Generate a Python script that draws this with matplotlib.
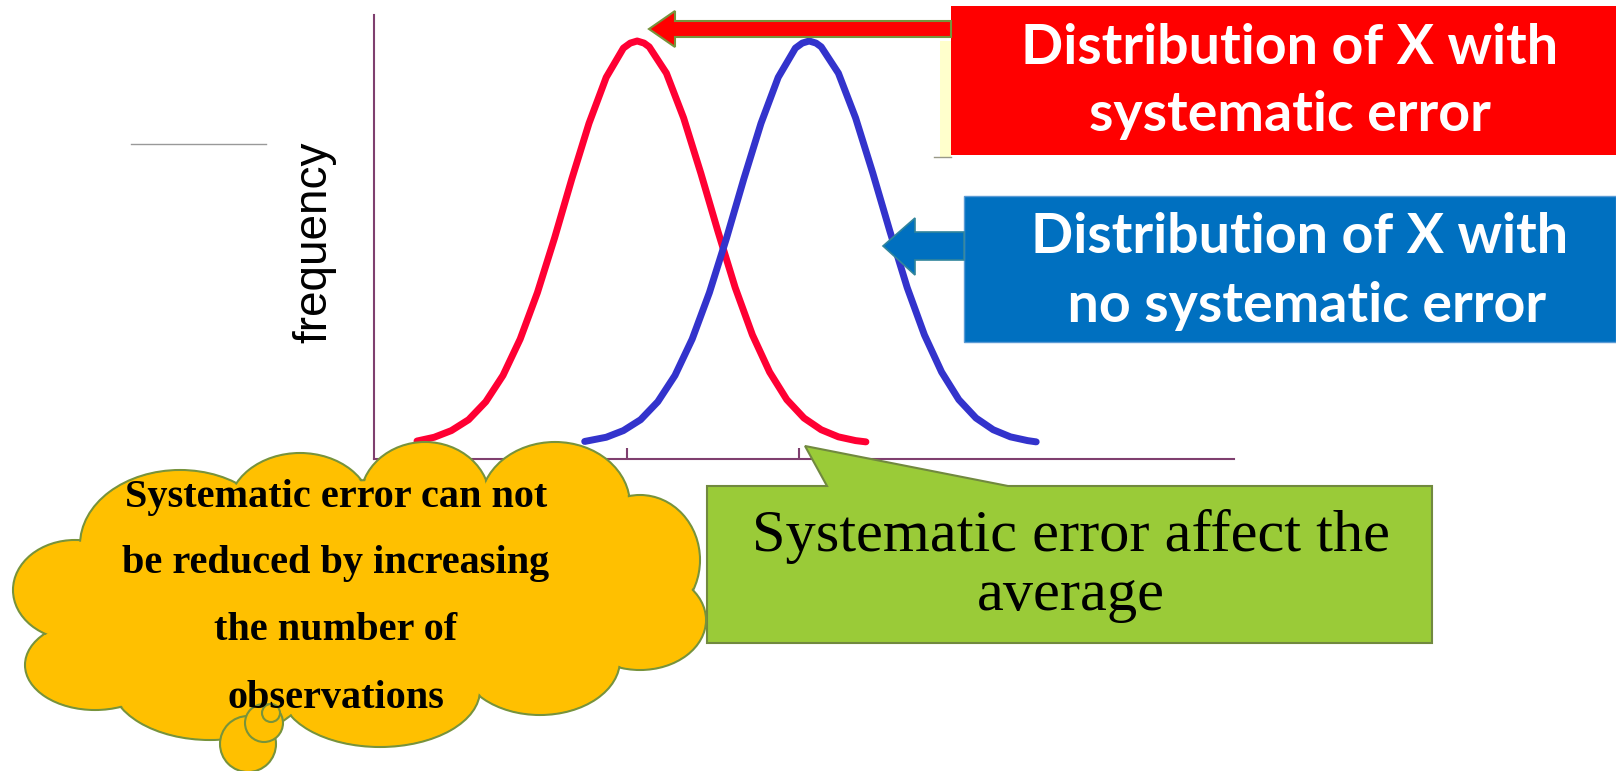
import numpy as np
import matplotlib.pyplot as plt
from matplotlib.patches import Ellipse, Polygon, Rectangle, Circle

# frequency curves, x in arbitrary measurement units (peak height = 1)
red_x = [0.5, 0.7, 0.9, 1.1, 1.3, 1.5, 1.7, 1.9, 2.1, 2.3, 2.5, 2.7, 2.9, 2.98,
         3.06, 3.14, 3.2, 3.4, 3.6, 3.8, 4.0, 4.2, 4.4, 4.6, 4.8, 5.0, 5.2,
         5.4, 5.6, 5.72]
red_y = [0.043, 0.052, 0.068, 0.094, 0.137, 0.200, 0.287, 0.398, 0.529, 0.670,
         0.803, 0.913, 0.983, 0.995, 1.000, 0.995, 0.986, 0.923, 0.816, 0.684,
         0.544, 0.410, 0.297, 0.208, 0.142, 0.098, 0.070, 0.053, 0.044, 0.041]
blue_x = [2.45, 2.7, 2.9, 3.1, 3.3, 3.5, 3.7, 3.9, 4.1, 4.3, 4.5, 4.7, 4.9, 4.98,
          5.06, 5.14, 5.2, 5.4, 5.6, 5.8, 6.0, 6.2, 6.4, 6.6, 6.8, 7.0, 7.2,
          7.4, 7.6, 7.7]
blue_y = [0.042, 0.052, 0.068, 0.094, 0.137, 0.200, 0.287, 0.398, 0.529, 0.670,
          0.803, 0.913, 0.983, 0.995, 1.000, 0.995, 0.986, 0.923, 0.816, 0.684,
          0.544, 0.410, 0.297, 0.208, 0.142, 0.098, 0.070, 0.053, 0.044, 0.041]
tick_x = [2.94, 4.94]

red_label = ["Distribution of X with", "systematic error"]
blue_label = ["Distribution of X with", " no systematic error"]
green_label = ["Systematic error affect the", "average"]
cloud_label = ["Systematic error can not", "be reduced by increasing",
               "the number of", "observations"]

W, H = 1616, 771
fig = plt.figure(figsize=(W / 100, H / 100), dpi=100)

# ---- plot area
ax = fig.add_axes([374 / W, 1 - 459 / H, 860 / W, 444 / H])
ax.plot(red_x, red_y, color="#FF0033", lw=5, solid_joinstyle="round",
        solid_capstyle="round")
ax.plot(blue_x, blue_y, color="#3333CC", lw=5, solid_joinstyle="round",
        solid_capstyle="round")
ax.set_xlim(0, 10)
ax.set_ylim(0, 444 / 418)
for s in ["top", "right"]:
    ax.spines[s].set_visible(False)
for s in ["left", "bottom"]:
    ax.spines[s].set_color("#7F3F6F")
    ax.spines[s].set_linewidth(1.5)
ax.set_xticks(tick_x)
ax.set_xticklabels([])
ax.set_yticks([])
ax.tick_params(axis="x", direction="in", length=8, width=1.5, color="#7F3F6F")

# ---- overlay in pixel coordinates for the shapes and labels
ov = fig.add_axes([0, 0, 1, 1])
ov.set_xlim(0, W)
ov.set_ylim(H, 0)
ov.axis("off")
ov.patch.set_alpha(0)

ov.plot([131, 266], [144, 144], color="#999999", lw=1)
ov.text(314, 242, "frequency", rotation=90, ha="center", va="center",
        fontsize=33, family="Liberation Sans", color="black")

# red label box and arrow
ov.add_patch(Rectangle((940, 41), 11, 116, facecolor="#FFFFCC", edgecolor="none"))
ov.plot([934, 951], [157, 157], color="#999988", lw=1)
ov.add_patch(Rectangle((951, 6), W - 951, 149, facecolor="#FF0000", edgecolor="none"))
ov.add_patch(Polygon([(951, 21), (675, 21), (675, 11), (649, 29), (675, 47),
                      (675, 37), (951, 37)], closed=True,
                     facecolor="#FF0000", edgecolor="#77933C", lw=1.5))
for i, line in enumerate(red_label):
    ov.text(1290, 48 + i * 67, line, ha="center", va="center", color="white",
            fontsize=40, family="Lato", weight="bold")

# blue label box and arrow
ov.add_patch(Rectangle((964, 196), W - 964, 146, facecolor="#0070C0",
                       edgecolor="#5B9BD5", lw=1))
ov.add_patch(Polygon([(964, 232), (915, 232), (915, 218), (883, 246), (915, 275),
                      (915, 260), (964, 260)], closed=True,
                     facecolor="#0070C0", edgecolor="#31859C", lw=1.2))
for i, line in enumerate(blue_label):
    ov.text(1300, 237 + i * 69, line, ha="center", va="center", color="white",
            fontsize=40, family="Lato", weight="bold")

# green callout
ov.add_patch(Polygon([(707, 486), (827, 486), (805, 446), (1008, 486),
                      (1432, 486), (1432, 643), (707, 643)], closed=True,
                     facecolor="#9ACB38", edgecolor="#71893F", lw=1.5))
for i, line in enumerate(green_label):
    ov.text(1071, 536 + i * 60, line, ha="center", va="center", color="black",
            fontsize=43.5, family="Liberation Serif")

# cloud built from overlapping lobes
lobes = [(425, 500, 65, 58), (555, 505, 75, 63), (640, 560, 60, 65),
         (640, 620, 66, 50), (540, 660, 80, 55), (380, 690, 100, 57),
         (210, 680, 100, 60), (95, 665, 70, 45), (75, 590, 62, 50),
         (180, 545, 100, 75), (300, 510, 72, 57), (150, 620, 85, 60),
         (380, 590, 250, 110)]
for cx, cy, rx, ry in lobes:
    ov.add_patch(Ellipse((cx, cy), 2 * rx, 2 * ry, facecolor="#FFC000",
                         edgecolor="#77933C", lw=1.5, zorder=3))
for cx, cy, rx, ry in lobes:
    ov.add_patch(Ellipse((cx, cy), 2 * rx - 3, 2 * ry - 3, facecolor="#FFC000",
                         edgecolor="none", zorder=4))
for cx, cy, r in [(248, 744, 28), (264, 723, 19), (271, 713, 9)]:
    ov.add_patch(Circle((cx, cy), r, facecolor="#FFC000", edgecolor="#77933C",
                        lw=1.5, zorder=5))
for i, line in enumerate(cloud_label):
    ov.text(336, 497 + i * 67, line, ha="center", va="center", color="black",
            fontsize=29, family="Liberation Serif", weight="bold", zorder=6)

fig.savefig("out.png", dpi=100)
